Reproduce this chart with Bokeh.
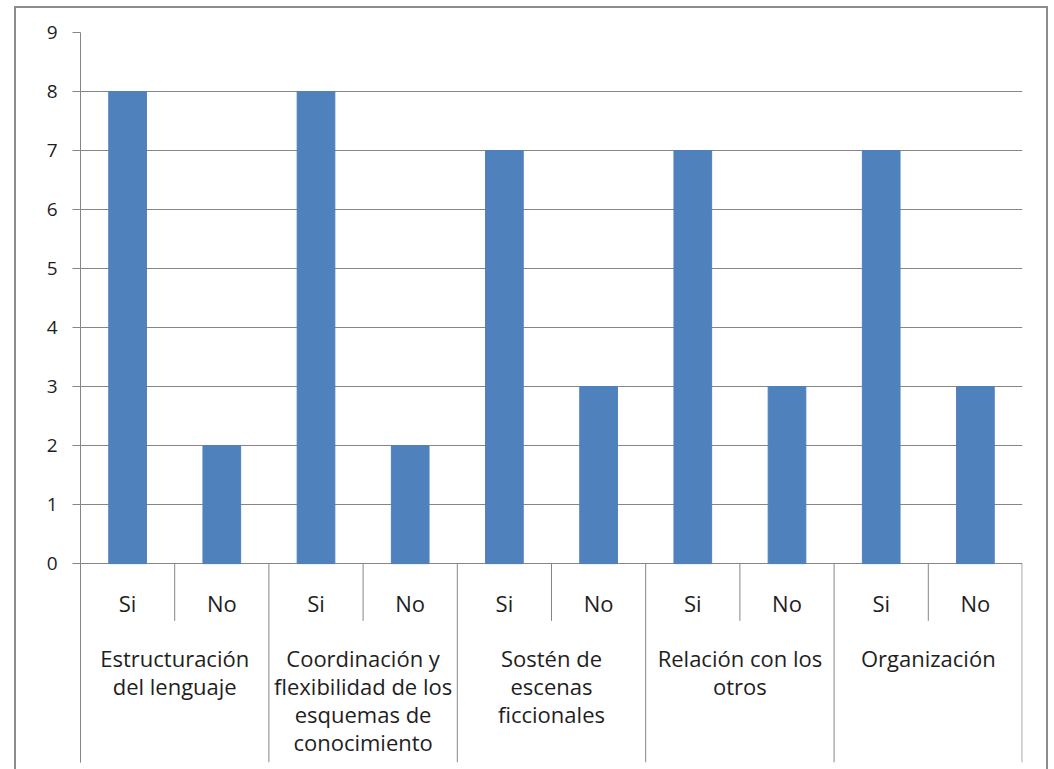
from bokeh.plotting import figure
from bokeh.models import Range1d, FixedTicker
from bokeh.core.properties import value
from bokeh.embed import file_html
from bokeh.resources import INLINE

# ---- data ----
groups = [
    "Estructuración\ndel lenguaje",
    "Coordinación y\nflexibilidad de los\nesquemas de\nconocimiento",
    "Sostén de\nescenas\nficcionales",
    "Relación con los\notros",
    "Organización",
]
answers = ["Si", "No"]
values = [8, 2, 8, 2, 7, 3, 7, 3, 7, 3]
y_ticks = [0, 1, 2, 3, 4, 5, 6, 7, 8, 9]

FONT = "Open Sans"
FS_TICK = "19px"
FS_CAT = "22px"
TXT = "#1e1e1e"
GRID = "#868686"
BAR = "#4F81BD"

n_sub = len(answers)
n = len(groups) * n_sub
sub_labels = [answers[i % n_sub] for i in range(n)]
x_bar = [i + 0.5 for i in range(n)]
x_grp = [g * n_sub + n_sub / 2 for g in range(len(groups))]

y_bottom = -3.37
p = figure(
    width=1030, height=761,
    x_range=Range1d(0, n), y_range=Range1d(y_bottom, max(y_ticks)),
    output_backend="svg", toolbar_location=None,
    x_axis_location=None,
    min_border_left=64, min_border_right=24, min_border_top=24, min_border_bottom=7,
    styles={"margin-left": "16px", "margin-top": "8px", "outline": "2px solid #8c8c8c"},
)
p.outline_line_color = None
p.background_fill_color = "white"
p.border_fill_color = "white"

p.xgrid.visible = False
p.ygrid.ticker = FixedTicker(ticks=y_ticks)
p.ygrid.grid_line_color = GRID

ax = p.yaxis[0]
ax.ticker = FixedTicker(ticks=y_ticks)
ax.axis_line_color = GRID
ax.major_tick_line_color = GRID
ax.major_tick_out = 8
ax.major_tick_in = 0
ax.minor_tick_line_color = None
ax.major_label_text_font = FONT
ax.major_label_text_font_size = FS_TICK
ax.major_label_text_color = TXT
ax.major_label_standoff = 15

p.vbar(x=x_bar, top=values, bottom=0, width=0.4, color=BAR)

# category separators
grp_edges = [g * n_sub for g in range(len(groups) + 1)]
grp_edges[-1] = n - 0.004
sub_edges = [g * n_sub + 1 for g in range(len(groups))]
p.segment(x0=grp_edges, y0=[0] * len(grp_edges), x1=grp_edges, y1=[y_bottom] * len(grp_edges),
          line_color=GRID, line_width=1)
p.segment(x0=sub_edges, y0=[0] * len(sub_edges), x1=sub_edges, y1=[-0.97] * len(sub_edges),
          line_color=GRID, line_width=1)

p.text(x=x_bar, y=[-0.66] * n, text=sub_labels, text_align="center", text_baseline="middle",
       text_font=value(FONT), text_font_size=FS_CAT, text_color=TXT)
p.text(x=x_grp, y=[-1.35] * len(groups), text=groups, text_align="center", text_baseline="top",
       text_font=value(FONT), text_font_size=FS_CAT, text_color=TXT, text_line_height=0.93)

open("out.html", "w").write(file_html(p, INLINE))
